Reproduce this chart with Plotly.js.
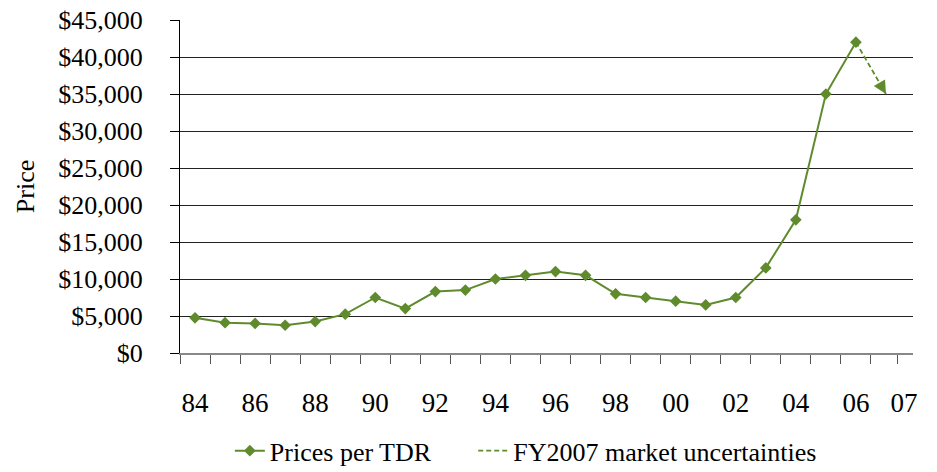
<!DOCTYPE html>
<html>
<head>
<meta charset="utf-8">
<script src="https://cdn.plot.ly/plotly-3.0.1.min.js"></script>
<style>html,body{margin:0;padding:0;background:#fff;}#chart{width:937px;height:472px;}</style>
</head>
<body>
<div id="chart"></div>
<script>
// Data
const years = [1984,1985,1986,1987,1988,1989,1990,1991,1992,1993,1994,1995,1996,1997,1998,1999,2000,2001,2002,2003,2004,2005,2006];
const prices = [4750,4100,4000,3750,4250,5250,7500,6000,8300,8500,10000,10500,11000,10500,8000,7500,7000,6500,7500,11500,18000,35000,42000];
const uncertaintyYears = [2006, 2007];
const uncertaintyPrices = [42000, 35000];
const tickLabelPositions = [1984,1986,1988,1990,1992,1994,1996,1998,2000,2002,2004,2006,2007.6];
const tickLabels = ['84','86','88','90','92','94','96','98','00','02','04','06','07'];
const tickMarkPositions = [1983.5,1984.5,1985.5,1986.5,1987.5,1988.5,1989.5,1990.5,1991.5,1992.5,1993.5,1994.5,1995.5,1996.5,1997.5,1998.5,1999.5,2000.5,2001.5,2002.5,2003.5,2004.5,2005.5,2006.5,2007.4];
const yTicks = [0,5000,10000,15000,20000,25000,30000,35000,40000,45000];
const yLabels = ['$0','$5,000','$10,000','$15,000','$20,000','$25,000','$30,000','$35,000','$40,000','$45,000'];

const green = '#5f8b2c';
const font = 'Liberation Serif, Times New Roman, serif';

const traces = [
  {x: years, y: prices, type: 'scatter', mode: 'lines+markers', name: 'Prices per TDR', legend: 'legend',
   line: {color: green, width: 2}, marker: {symbol: 'diamond', size: 9, color: green}},
  {x: uncertaintyYears, y: uncertaintyPrices, type: 'scatter', mode: 'lines', name: 'FY2007 market uncertainties', legend: 'legend2',
   line: {color: green, width: 1.8, dash: '5px,3px'}}
];

const ax0 = uncertaintyYears[0] + 0.8*(uncertaintyYears[1]-uncertaintyYears[0]);
const ay0 = uncertaintyPrices[0] + 0.8*(uncertaintyPrices[1]-uncertaintyPrices[0]);

const legendFont = {family: font, size: 26, color: '#000'};
const layout = {
  width: 937, height: 472,
  margin: {l: 180, r: 24, t: 20, b: 119},
  paper_bgcolor: '#fff', plot_bgcolor: '#fff',
  font: {family: font, size: 26, color: '#000'},
  showlegend: true,
  legend: {orientation: 'h', x: 0.068, xanchor: 'left', yref: 'container', y: 0.045, yanchor: 'middle',
           itemwidth: 30, font: legendFont, bgcolor: 'rgba(0,0,0,0)'},
  legend2: {orientation: 'h', x: 0.4, xanchor: 'left', yref: 'container', y: 0.045, yanchor: 'middle',
           itemwidth: 30, font: legendFont, bgcolor: 'rgba(0,0,0,0)'},
  xaxis: {range: [1983.5, 2007.9], tickmode: 'array', tickvals: tickLabelPositions, ticktext: tickLabels,
          automargin: false,
          ticks: '', showgrid: false, zeroline: false, showline: true, linecolor: '#888', linewidth: 1.5,
          ticklabelstandoff: 25, tickfont: {family: font, size: 27},
          minor: {tickmode: 'array', tickvals: tickMarkPositions, ticks: 'outside', ticklen: 9, tickcolor: '#555', tickwidth: 1, showgrid: false}},
  yaxis: {range: [0, 45000], tickmode: 'array', tickvals: yTicks, ticktext: yLabels,
          automargin: false,
          ticks: 'outside', ticklen: 9, tickcolor: '#000', showgrid: true, gridcolor: '#222', gridwidth: 1,
          zeroline: false, showline: true, linecolor: '#000', linewidth: 1, ticklabelstandoff: 22,
          tickfont: {family: font, size: 26},
          title: {text: 'Price', font: {family: font, size: 26}, standoff: 16}},
  annotations: [{x: uncertaintyYears[1], y: uncertaintyPrices[1], ax: ax0, ay: ay0, axref: 'x', ayref: 'y', xref: 'x', yref: 'y',
                 showarrow: true, arrowhead: 2, arrowsize: 1.3, arrowwidth: 2, arrowcolor: green, text: ''}]
};

Plotly.newPlot('chart', traces, layout, {displayModeBar: false, staticPlot: true});
</script>
</body>
</html>
